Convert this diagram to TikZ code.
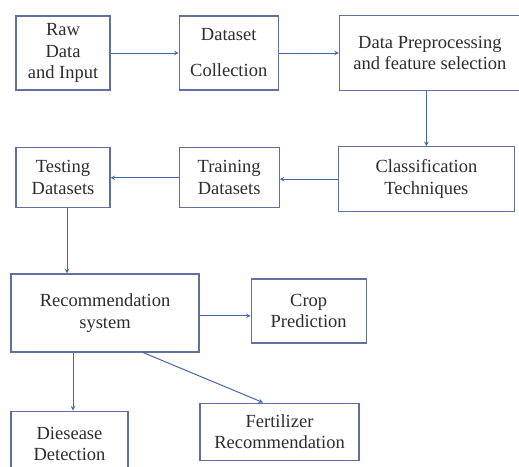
\documentclass[tikz,border=0pt]{standalone}
\usepackage{fontspec}
\setmainfont{Liberation Serif}
\usetikzlibrary{positioning, arrows}
\definecolor{boxline}{RGB}{96,112,160}
\definecolor{arrowline}{RGB}{72,100,168}
\definecolor{boxtext}{RGB}{45,45,45}
\tikzset{->,>=stealth,
every node/.style={font=\rmfamily\fontsize{18.5}{21.5}\selectfont, text=boxtext, align=center},
stepbox/.style={draw=boxline, line width=1.2pt, fill=white, inner sep=0pt},
flow/.style={draw=arrowline, line width=1pt},
}

\begin{document}
\begin{tikzpicture}[x=1pt, y=-1pt]
    \useasboundingbox (0,0) rectangle (519,466);
    \node[stepbox, minimum width=94pt, minimum height=74pt] (raw) at (63,53) {Raw\\Data\\and Input};
    \node[stepbox, minimum width=99pt, minimum height=74pt, right=68pt of raw] (coll) {Dataset\\[14.5pt]Collection};
    \node[stepbox, minimum width=181pt, minimum height=75pt, right=60pt of coll] (prep) {Data Preprocessing\\and feature selection};
    \node[stepbox, minimum width=176pt, minimum height=65pt, below=55pt of prep, xshift=-3.5pt] (class) {Classification\\Techniques};
    \node[stepbox, minimum width=100pt, minimum height=60pt, left=58pt of class, yshift=1.5pt] (train) {Training\\Datasets};
    \node[stepbox, minimum width=94pt, minimum height=60pt, left=68pt of train] (test) {Testing\\Datasets};
    \node[stepbox, minimum width=188pt, minimum height=78pt, below=65pt of test, xshift=42pt] (rec) {Recommendation\\system};
    \node[stepbox, minimum width=115pt, minimum height=64pt, right=51pt of rec, yshift=2pt] (crop) {Crop\\Prediction};
    \node[stepbox, minimum width=117pt, minimum height=66pt, below=58pt of rec, xshift=-35.5pt] (dis) {Diesease\\Detection};
    \node[stepbox, minimum width=159pt, minimum height=57pt, below=50pt of rec, xshift=174.5pt] (fert) {Fertilizer\\Recommendation};
    \path
    (raw) edge[flow] (coll)
    (coll) edge[flow] (coll -| prep.west)
    (class.north |- prep.south) edge[flow] (class.north)
    (class) edge[flow] (class -| train.east)
    (train) edge[flow] (train -| test.east)
    ([xshift=4pt]test.south) edge[flow] ([xshift=4pt]test.south |- rec.north)
    ([yshift=-3pt]rec.east) edge[flow] ([yshift=-3pt]rec.east -| crop.west)
    ([xshift=3.5pt]dis.north |- rec.south) edge[flow] ([xshift=3.5pt]dis.north)
    ([xshift=38pt]rec.south) edge[flow] ([xshift=-16.5pt]fert.north)
    ;
\end{tikzpicture}
\end{document}
